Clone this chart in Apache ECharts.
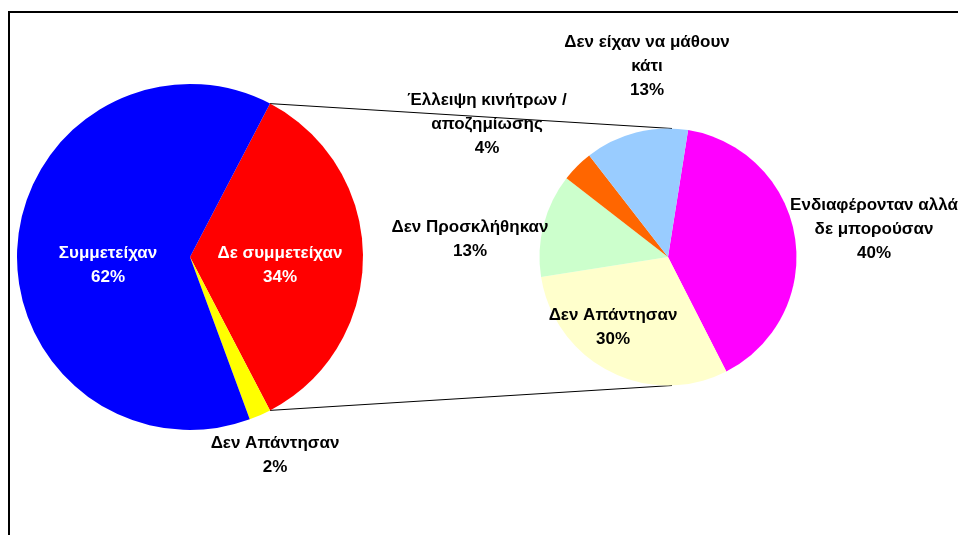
<!DOCTYPE html>
<html>
<head>
<meta charset="utf-8">
<script src="https://cdn.jsdelivr.net/npm/echarts@6/dist/echarts.min.js"></script>
<style>
  html, body { margin: 0; padding: 0; background: #fff; }
  #chart { width: 958px; height: 535px; }
</style>
</head>
<body>
<div id="chart"></div>
<script>
// κύρια πίτα
var mainNames = ['Δε συμμετείχαν', 'Δεν Απάντησαν', 'Συμμετείχαν'];
var mainValues = [34, 2, 62];
var mainColors = ['#FF0000', '#FFFF00', '#0000FF'];
var mainLabelColors = ['#fff', '#000', '#fff'];

// δευτερεύουσα πίτα (ανάλυση του "Δε συμμετείχαν")
var subNames = ['Ενδιαφέρονταν αλλά\nδε μπορούσαν', 'Δεν Απάντησαν', 'Δεν Προσκλήθηκαν', 'Έλλειψη κινήτρων /\nαποζημίωσης', 'Δεν είχαν να μάθουν\nκάτι'];
var subValues = [40, 30, 13, 4, 13];
var subColors = ['#FF00FF', '#FFFFCC', '#CCFFCC', '#FF6600', '#99CCFF'];

// θέσεις ετικετών (κέντρο του κειμένου)
var mainLabelPos = [[280, 265], [275, 455], [108, 265]];
var subLabelPos = [[874, 229], [613, 327], [470, 239], [487, 124], [647, 66]];

var c1 = [190, 257], r1 = 173;
var c2 = [668, 257], r2 = 128.5;

var mainSum = mainValues.reduce(function (a, b) { return a + b; }, 0);
// το "Δε συμμετείχαν" κεντραρισμένο προς τα δεξιά
var startAngle1 = 180 * mainValues[0] / mainSum;
var endAngle1 = startAngle1 - 360 * mainValues[0] / mainSum;

function pointOn(c, r, deg) {
    var a = deg * Math.PI / 180;
    return [c[0] + r * Math.cos(a), c[1] - r * Math.sin(a)];
}

var p1 = pointOn(c1, r1, startAngle1);
var p2 = pointOn(c1, r1, endAngle1);

var labelFont = {
    fontFamily: '"Liberation Sans", Arial, sans-serif',
    fontWeight: 'bold',
    fontSize: 17,
    lineHeight: 24
};

var mainData = mainNames.map(function (n, i) {
    return {
        name: n,
        value: mainValues[i],
        itemStyle: {color: mainColors[i]},
        label: {color: mainLabelColors[i]}
    };
});
var subData = subNames.map(function (n, i) {
    return {
        name: n,
        value: subValues[i],
        itemStyle: {color: subColors[i]}
    };
});

var chart = echarts.init(document.getElementById('chart'));
var option = {
    animation: false,
    backgroundColor: '#fff',
    graphic: [
        {
            type: 'rect',
            shape: {x: 9, y: 12, width: 1000, height: 600},
            style: {fill: 'none', stroke: '#000', lineWidth: 2},
            z: 0
        },
        {
            type: 'line',
            shape: {x1: p1[0], y1: p1[1], x2: c2[0] + 4, y2: c2[1] - r2},
            style: {stroke: '#000', lineWidth: 1},
            z: 1
        },
        {
            type: 'line',
            shape: {x1: p2[0], y1: p2[1], x2: c2[0] + 4, y2: c2[1] + r2},
            style: {stroke: '#000', lineWidth: 1},
            z: 1
        }
    ],
    series: [
        {
            name: 'main',
            type: 'pie',
            center: c1,
            radius: r1,
            startAngle: startAngle1,
            clockwise: true,
            avoidLabelOverlap: false,
            itemStyle: {borderWidth: 0},
            emphasis: {disabled: true},
            label: Object.assign({
                show: true,
                position: 'inside',
                formatter: function (p) { return p.name + '\n' + p.value + '%'; }
            }, labelFont),
            labelLine: {show: false},
            labelLayout: function (params) {
                var pos = mainLabelPos[params.dataIndex];
                return {x: pos[0], y: pos[1], align: 'center', verticalAlign: 'middle'};
            },
            data: mainData
        },
        {
            name: 'sub',
            type: 'pie',
            center: c2,
            radius: r2,
            startAngle: 81,
            clockwise: true,
            avoidLabelOverlap: false,
            itemStyle: {borderWidth: 0},
            emphasis: {disabled: true},
            label: Object.assign({
                show: true,
                position: 'inside',
                color: '#000',
                formatter: function (p) { return p.name + '\n' + p.value + '%'; }
            }, labelFont),
            labelLine: {show: false},
            labelLayout: function (params) {
                var pos = subLabelPos[params.dataIndex];
                return {x: pos[0], y: pos[1], align: 'center', verticalAlign: 'middle'};
            },
            data: subData
        }
    ]
};
chart.setOption(option);
</script>
</body>
</html>
